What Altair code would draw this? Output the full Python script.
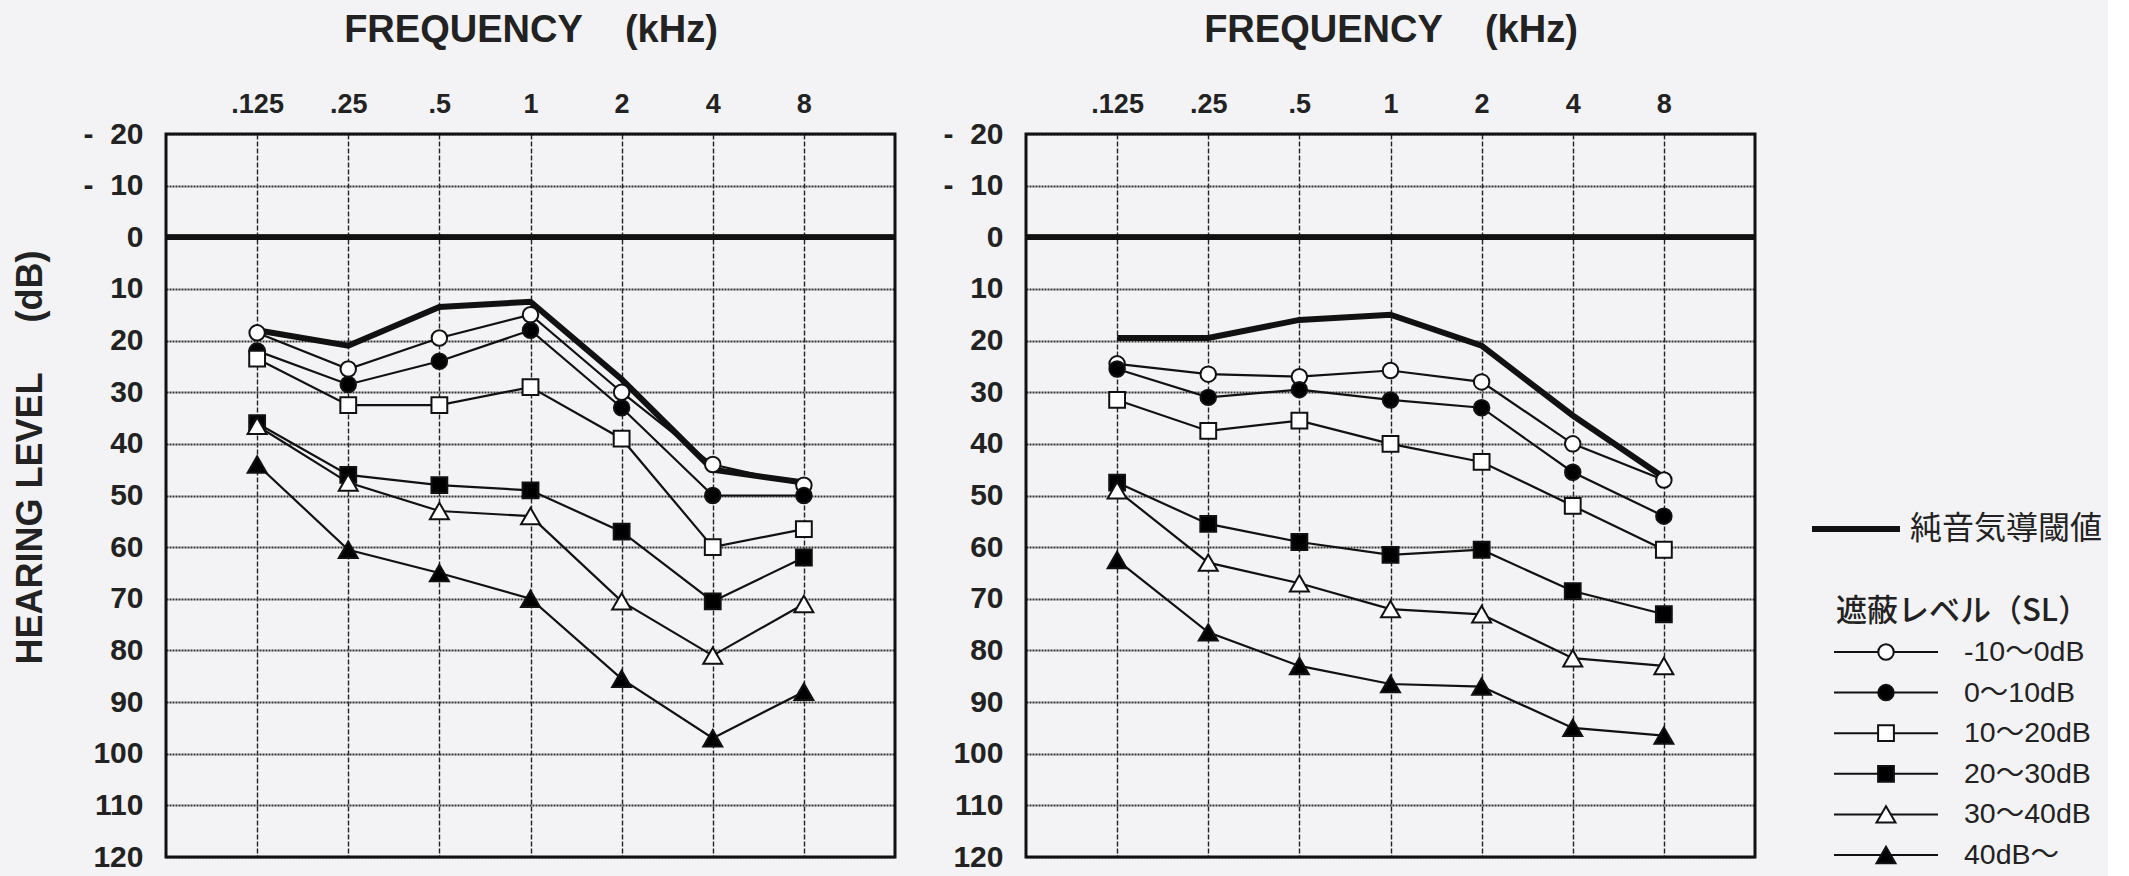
import altair as alt
import pandas as pd

# ---------------- data ----------------
freqs = [0.125, 0.25, 0.5, 1, 2, 4, 8]
freq_labels = [".125", ".25", ".5", "1", "2", "4", "8"]
y_ticks = [-20, -10, 0, 10, 20, 30, 40, 50, 60, 70, 80, 90, 100, 110, 120]

series_labels = ["-10〜0dB", "0〜10dB", "10〜20dB", "20〜30dB", "30〜40dB", "40dB〜"]
threshold_label = "純音気導閾値"
legend_header = "遮蔽レベル（SL）"

# left ear
left_threshold = [18, 21, 13.5, 12.5, 27.5, 45, 47.5]
left_m10_0 = [18.5, 25.5, 19.5, 15, 30, 44, 48]
left_0_10 = [22, 28.5, 24, 18, 33, 50, 50]
left_10_20 = [23.5, 32.5, 32.5, 29, 39, 60, 56.5]
left_20_30 = [36, 46, 48, 49, 57, 70.5, 62]
left_30_40 = [36.5, 47.5, 53, 54, 70.5, 81, 71]
left_40 = [44, 60.5, 65, 70, 85.5, 97, 88]

# right ear
right_threshold = [19.5, 19.5, 16, 15, 21, 34.5, 46.5]
right_m10_0 = [24.5, 26.5, 27, 25.8, 28, 40, 47]
right_0_10 = [25.5, 31, 29.5, 31.5, 33, 45.5, 54]
right_10_20 = [31.5, 37.5, 35.5, 40, 43.5, 52, 60.5]
right_20_30 = [47.5, 55.5, 59, 61.5, 60.5, 68.5, 73]
right_30_40 = [49, 63, 67, 72, 73, 81.5, 83]
right_40 = [62.5, 76.5, 83, 86.5, 87, 95, 96.5]

# marker styles per series
marker_shapes = ["circle", "circle", "square", "square", "triangle-up", "triangle-up"]
marker_fills = ["white", "black", "white", "black", "white", "black"]
marker_sizes = [240, 240, 250, 250, 360, 360]

# ---------------- styling ----------------
BG = "#f3f3f5"
W, H = 729, 723
FONT = "Liberation Sans, Arial, sans-serif"
LFONT = "Liberation Sans, Noto Sans CJK JP, sans-serif"
JFONT = "Noto Sans CJK JP, Liberation Sans, sans-serif"
NB = "\u00a0"

label_map = "{" + ",".join(f"'{f}':'{l}'" for f, l in zip(freqs, freq_labels)) + "}"


def long_df(series_lists):
    rows = []
    for si, vals in enumerate(series_lists):
        for f, v in zip(freqs, vals):
            rows.append({
                "freq": f, "db": v, "series": series_labels[si],
                "shape": marker_shapes[si], "fill": marker_fills[si],
                "size": marker_sizes[si],
            })
    return pd.DataFrame(rows)


def panel(series_lists, thr, show_ytitle):
    df = long_df(series_lists)
    tdf = pd.DataFrame({"freq": freqs, "db": thr})

    x = alt.X(
        "freq:Q",
        scale=alt.Scale(type="log", base=2, domain=[0.0625, 16], nice=False),
        axis=alt.Axis(
            orient="top", values=freqs, labelExpr=f"{label_map}[''+datum.value]",
            title=f"FREQUENCY{NB*4}(kHz)", titleFont=FONT, titleFontSize=38,
            titleFontWeight="bold", titleColor="#222", titlePadding=41,
            labelFont=FONT, labelFontSize=27, labelFontWeight="bold", labelColor="#222",
            labelPadding=16, ticks=False, domain=False,
            grid=True, gridColor="#222", gridDash=[5, 2], gridWidth=1.4,
        ),
    )
    y_axis_kwargs = dict(
        values=y_ticks,
        labelExpr=f"datum.value < 0 ? '-{NB*2}' + abs(datum.value) : datum.label",
        labelFont=FONT, labelFontSize=30, labelFontWeight="bold", labelColor="#222",
        labelPadding=23, ticks=False, domain=False,
        grid=True, gridColor="#333", gridDash=[2, 1], gridWidth=2.2,
    )
    if show_ytitle:
        y_axis_kwargs.update(
            title=f"HEARING LEVEL{NB*5}(dB)", titleFont=FONT, titleFontSize=36,
            titleFontWeight="bold", titleColor="#222", titlePadding=33, titleY=323,
        )
    else:
        y_axis_kwargs.update(title=None)
    y = alt.Y("db:Q", scale=alt.Scale(domain=[-20, 120], reverse=True, nice=False, zero=False),
              axis=alt.Axis(**y_axis_kwargs))

    thick = alt.Chart(tdf).mark_line(color="#111", strokeWidth=6).encode(x=x, y=y)
    zero = alt.Chart(tdf).mark_rule(color="#111", strokeWidth=5).encode(y=alt.datum(0))
    lines = alt.Chart(df).mark_line(color="#111", strokeWidth=2.2).encode(
        x=x, y=y, detail="series:N")
    pts = alt.Chart(df).mark_point(filled=True, stroke="#111", strokeWidth=2, opacity=1).encode(
        x=x, y=y,
        shape=alt.Shape("shape:N", scale=None),
        fill=alt.Fill("fill:N", scale=None),
        size=alt.Size("size:Q", scale=None),
    )
    border = alt.Chart(alt.Data(values=[{}])).mark_rect(
        fill="transparent", stroke="#111", strokeWidth=3).encode(
        x=alt.value(0), x2=alt.value(W), y=alt.value(0), y2=alt.value(H))
    return alt.layer(zero, thick, lines, pts, border).properties(width=W, height=H)


left = panel([left_m10_0, left_0_10, left_10_20, left_20_30, left_30_40, left_40],
             left_threshold, True)
right = panel([right_m10_0, right_0_10, right_10_20, right_20_30, right_30_40, right_40],
              right_threshold, False)

# ---------------- legend panel ----------------
leg_df = pd.DataFrame({
    "i": list(range(len(series_labels))),
    "label": series_labels,
    "shape": marker_shapes,
    "fill": marker_fills,
    "size": marker_sizes,
})
ly = alt.Y("i:Q", scale=alt.Scale(domain=[0, 5], range=[518, 721]), axis=None)
one = alt.Data(values=[{"t": threshold_label, "h": legend_header}])

leg_thick = alt.Chart(one).mark_rule(color="#111", strokeWidth=6).encode(
    x=alt.value(-74), x2=alt.value(14), y=alt.value(395))
leg_thick_txt = alt.Chart(one).mark_text(
    align="left", baseline="middle", font=JFONT, fontSize=32, color="#222").encode(
    x=alt.value(24), y=alt.value(395), text="t:N")
leg_head = alt.Chart(one).mark_text(
    align="left", baseline="middle", font=JFONT, fontSize=31, fontWeight=500,
    color="#222").encode(
    x=alt.value(-50), y=alt.value(478), text="h:N")
leg_lines = alt.Chart(leg_df).mark_rule(color="#111", strokeWidth=2).encode(
    x=alt.value(-52), x2=alt.value(52), y=ly)
leg_pts = alt.Chart(leg_df).mark_point(filled=True, stroke="#111", strokeWidth=2, opacity=1).encode(
    x=alt.value(0), y=ly,
    shape=alt.Shape("shape:N", scale=None),
    fill=alt.Fill("fill:N", scale=None),
    size=alt.Size("size:Q", scale=None),
)
leg_txt = alt.Chart(leg_df).mark_text(
    align="left", baseline="middle", font=LFONT, fontSize=28.5, color="#222").encode(
    x=alt.value(78), y=ly, text="label:N")

legend = alt.layer(leg_thick, leg_thick_txt, leg_head, leg_lines, leg_pts, leg_txt).properties(
    width=160, height=H)

chart = alt.hconcat(left, right, legend, spacing=131, bounds="flush").properties(
    background=BG,
    padding={"left": 12, "top": 11, "right": 5, "bottom": 5},
).configure_view(strokeWidth=0)

chart.save("out.html", embed_options={"renderer": "svg", "actions": False})
